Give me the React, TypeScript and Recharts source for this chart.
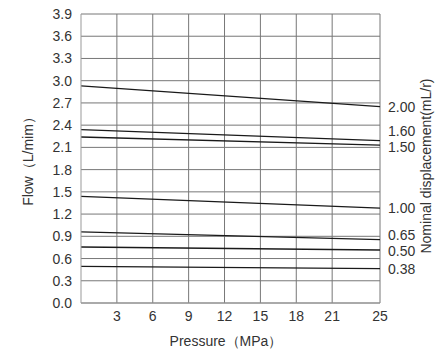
import { LineChart, Line, XAxis, YAxis, CartesianGrid } from "recharts";

// Flow vs pressure for each nominal displacement
const pressures = [0, 25];
const displacements = ["2.00", "1.60", "1.50", "1.00", "0.65", "0.50", "0.38"];
const flowAtStart = [2.93, 2.34, 2.24, 1.44, 0.96, 0.756, 0.495];
const flowAtEnd = [2.65, 2.19, 2.13, 1.28, 0.855, 0.715, 0.463];
const xTicks = [3, 6, 9, 12, 15, 18, 21, 25];
const yTicks = [0, 0.3, 0.6, 0.9, 1.2, 1.5, 1.8, 2.1, 2.4, 2.7, 3.0, 3.3, 3.6, 3.9];

// small nudges so the end labels don't collide
const labelNudge: Record<string, number> = { "1.60": -10, "1.50": 2, "0.65": -5, "0.50": 1 };

const data = pressures.map((p, i) => {
  const row: Record<string, number> = { p };
  displacements.forEach((d, k) => {
    row[d] = i === 0 ? flowAtStart[k] : flowAtEnd[k];
  });
  return row;
});

const FONT = "'Liberation Sans', Arial, sans-serif";
const FS = 14;
const tick = { fill: "#333", fontSize: FS, fontFamily: FONT };

function endLabel(name: string) {
  return (props: any) => {
    const { x, y, index } = props;
    if (index !== data.length - 1) return null;
    return (
      <text
        x={x + 8}
        y={y + (labelNudge[name] || 0)}
        fill="#333"
        fontSize={FS}
        fontFamily={FONT}
        dominantBaseline="central"
      >
        {name}
      </text>
    );
  };
}

export default function App() {
  return (
    <div style={{ position: "absolute", left: 0, top: 0, width: 435, height: 350, background: "#fff" }}>
      <LineChart width={435} height={350} data={data} margin={{ top: 14, right: 55, bottom: 0, left: 0 }}>
        <CartesianGrid stroke="#777" strokeWidth={1} horizontalValues={yTicks} verticalValues={xTicks} />
        <XAxis
          dataKey="p"
          type="number"
          domain={[0, 25]}
          ticks={xTicks}
          interval={0}
          tickSize={0}
          tickMargin={8}
          tick={tick}
          stroke="#999"
          height={47}
        />
        <YAxis
          type="number"
          domain={[0, 3.9]}
          ticks={yTicks}
          interval={0}
          tickFormatter={(v: number) => v.toFixed(1)}
          tickSize={0}
          tickMargin={9}
          tick={tick}
          stroke="#999"
          width={81}
          allowDataOverflow
        />
        {displacements.map((d) => (
          <Line
            key={d}
            dataKey={d}
            type="linear"
            stroke="#1a1a1a"
            strokeWidth={1.3}
            dot={false}
            isAnimationActive={false}
            label={endLabel(d)}
          />
        ))}
        <text x={28} y={158} transform="rotate(-90 28 158)" textAnchor="middle" dominantBaseline="central" fill="#333" fontSize={FS} fontFamily={FONT}>
          Flow（L/mim）
        </text>
        <text x={226} y={341} textAnchor="middle" dominantBaseline="central" fill="#333" fontSize={FS} fontFamily={FONT}>
          Pressure（MPa）
        </text>
        <text x={426} y={166} transform="rotate(-90 426 166)" textAnchor="middle" dominantBaseline="central" fill="#333" fontSize={FS} fontFamily={FONT}>
          Nominal displacement(mL/r)
        </text>
      </LineChart>
    </div>
  );
}
